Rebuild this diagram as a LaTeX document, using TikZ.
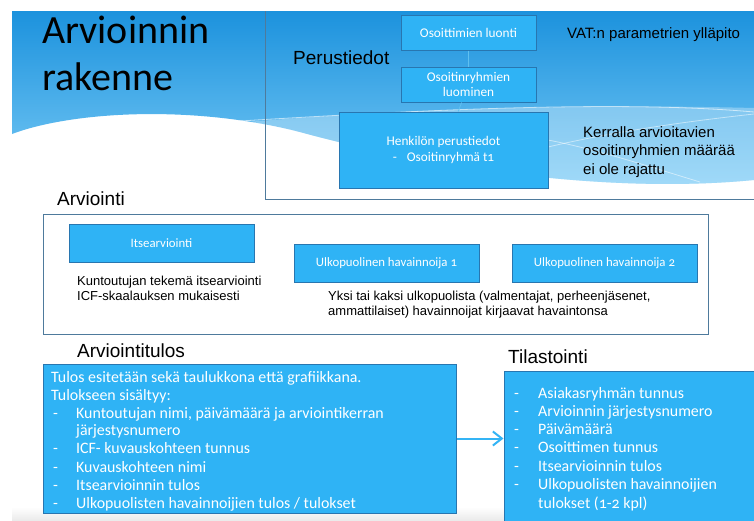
\documentclass[tikz,border=0pt]{standalone}
\usepackage{fontspec}
\setmainfont{Liberation Sans}
\newfontfamily\calfont{Carlito}[Numbers=OldStyle]
\newfontfamily\titlefont{Carlito}
\usetikzlibrary{arrows.meta}
\definecolor{boxfill}{RGB}{47,179,245}
\definecolor{boxdraw}{RGB}{40,118,176}
\definecolor{framedraw}{RGB}{78,122,156}
\definecolor{connc}{RGB}{95,192,240}
\definecolor{arrc}{RGB}{52,180,245}
\definecolor{bgtop}{RGB}{28,146,221}
\definecolor{bgbot}{RGB}{125,205,247}
\begin{document}
\begin{tikzpicture}[x=1pt,y=-1pt,
  box/.style={draw=boxdraw, line width=1pt, fill=boxfill, text=white, align=center, inner sep=0pt,
    font=\calfont\fontsize{13.3}{15.5}\selectfont},
  framebox/.style={draw=framedraw, line width=1pt, inner sep=0pt},
  txt/.style={anchor=base west, inner sep=0pt},
  head/.style={txt, font=\fontsize{19}{22}\selectfont},
  note/.style={txt, font=\fontsize{15}{18}\selectfont},
  small/.style={txt, font=\fontsize{13}{16}\selectfont},
  ltxt/.style={txt, text=white, font=\calfont\fontsize{15.9}{18}\selectfont},
  conn/.style={draw=connc, line width=0.8pt},
  arr/.style={draw=arrc, line width=2pt, -{Straight Barb[length=9pt,width=14pt,line width=2pt]}}]
\useasboundingbox (0,0) rectangle (754,520);
% background
\fill[white] (0,0) rectangle (754,520);
\shade[top color=bgtop, bottom color=bgbot]
  (12,134) .. controls (70,112) and (190,104) .. (300,132)
  .. controls (420,165) and (600,195) .. (754,180) -- (754,11) -- (12,11) -- cycle;
\fill[white, opacity=0.3] (250,121.7) .. controls (420,108) and (600,104) .. (754,108)
  -- (754,180) .. controls (600,195) and (420,165) .. (300,132) -- cycle;
\draw[white, opacity=0.6, line width=0.8pt] (240,121) .. controls (420,110) and (620,100) .. (754,112);
\draw[white, opacity=0.5, line width=0.8pt] (548,147) .. controls (620,130) and (700,120) .. (754,114);
\draw[white, opacity=0.5, line width=0.8pt] (548,140) .. controls (600,150) and (660,170) .. (700,182);
\shade[top color=white, bottom color=black!8] (12,507) rectangle (754,520);
% title
\node[txt, font=\titlefont\fontsize{40}{47}\selectfont] (title1) at (42,43) {Arvioinnin};
\node[txt, font=\titlefont\fontsize{40}{47}\selectfont] (title2) at (42,90) {rakenne};
% Perustiedot
\draw[framedraw, line width=1pt] (265,11) |- (760,199);
\node[head] (perus) at (293,64) {Perustiedot};
\node[box, minimum width=135pt, minimum height=35pt] (luonti) at (468.5,32.5) {Osoittimien luonti};
\node[box, minimum width=135pt, minimum height=35pt] (ryhmat) at (468.5,84.5) {Osoitinryhmien\\luominen};
\node[box, minimum width=209pt, minimum height=76pt] (henk) at (443.5,150) {Henkilön perustiedot\\-\hspace{10pt}Osoitinryhmä t1};
\draw[conn] (luonti) -- (ryhmat);
\draw[conn] (ryhmat) -- (henk);
\node[note] (vat) at (567,38.5) {VAT:n parametrien ylläpito};
\node[note] (ker1) at (583,137) {Kerralla arvioitavien};
\node[note] (ker2) at (583,155.5) {osoitinryhmien määrää};
\node[note] (ker3) at (583,174) {ei ole rajattu};
% Arviointi
\node[head] (arvh) at (57,205) {Arviointi};
\node[framebox, minimum width=665pt, minimum height=120pt] (arvframe) at (375.5,274) {};
\node[box, font=\calfont\fontsize{12.8}{15}\selectfont, minimum width=185pt, minimum height=38pt] (itse) at (161.5,243) {Itsearviointi};
\node[box, font=\calfont\fontsize{12.8}{15}\selectfont, minimum width=185pt, minimum height=38pt] (ulko1) at (386.5,263) {Ulkopuolinen havainnoija 1};
\node[box, font=\calfont\fontsize{12.8}{15}\selectfont, minimum width=185pt, minimum height=38pt] (ulko2) at (604.5,263) {Ulkopuolinen havainnoija 2};
\node[small] (kun1) at (77,285) {Kuntoutujan tekemä itsearviointi};
\node[small] (kun2) at (77,300) {ICF-skaalauksen mukaisesti};
\node[small] (yk1) at (328,300) {Yksi tai kaksi ulkopuolista (valmentajat, perheenjäsenet,};
\node[small] (yk2) at (328,315) {ammattilaiset) havainnoijat kirjaavat havaintonsa};
% Arviointitulos
\node[head] (tulh) at (77,357) {Arviointitulos};
\node[box, minimum width=413pt, minimum height=149pt] (res) at (249.5,438.5) {};
\node[ltxt] (r1) at (51,382) {Tulos esitetään sekä taulukkona että grafiikkana.};
\node[ltxt] (r2) at (51,400) {Tulokseen sisältyy:};
\node[ltxt] (d3) at (53,418) {-};
\node[ltxt] (r3) at (76,418) {Kuntoutujan nimi, päivämäärä ja arviointikerran};
\node[ltxt] (r4) at (76,435) {järjestysnumero};
\node[ltxt] (d5) at (53,453) {-};
\node[ltxt] (r5) at (76,453) {ICF- kuvauskohteen tunnus};
\node[ltxt] (d6) at (53,472) {-};
\node[ltxt] (r6) at (76,472) {Kuvauskohteen nimi};
\node[ltxt] (d7) at (53,490) {-};
\node[ltxt] (r7) at (76,490) {Itsearvioinnin tulos};
\node[ltxt] (d8) at (53,508) {-};
\node[ltxt] (r8) at (76,508) {Ulkopuolisten havainnoijien tulos / tulokset};
% Tilastointi
\node[head] (tilh) at (508,363) {Tilastointi};
\node[box, minimum width=256pt, minimum height=154pt] (tilast) at (632,448) {};
\node[ltxt] (e1) at (514,398) {-};
\node[ltxt] (s1) at (538,398) {Asiakasryhmän tunnus};
\node[ltxt] (e2) at (514,416) {-};
\node[ltxt] (s2) at (538,416) {Arvioinnin järjestysnumero};
\node[ltxt] (e3) at (514,434) {-};
\node[ltxt] (s3) at (538,434) {Päivämäärä};
\node[ltxt] (e4) at (514,452) {-};
\node[ltxt] (s4) at (538,452) {Osoittimen tunnus};
\node[ltxt] (e5) at (514,471) {-};
\node[ltxt] (s5) at (538,471) {Itsearvioinnin tulos};
\node[ltxt] (e6) at (514,489) {-};
\node[ltxt] (s6) at (538,489) {Ulkopuolisten havainnoijien};
\node[ltxt] (s7) at (538,508) {tulokset (1-2 kpl)};
\draw[arr] (res.east) -- (res.east -| tilast.west);
\end{tikzpicture}
\end{document}
